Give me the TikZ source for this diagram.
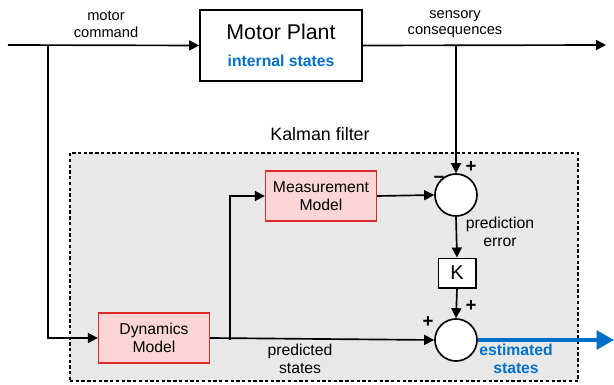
\documentclass[tikz,border=0pt]{standalone}
\usepackage{fontspec}
\setmainfont{Liberation Sans}
\usetikzlibrary{arrows.meta}
\definecolor{kfgray}{RGB}{232,232,232}
\definecolor{redfill}{RGB}{252,214,214}
\definecolor{redline}{RGB}{224,40,40}
\definecolor{estblue}{RGB}{0,112,200}
\begin{document}
\begin{tikzpicture}[x=0.75pt,y=-0.75pt,
  conn/.style={line width=1.25pt,-{Triangle[length=7.5pt,width=7.5pt]}},
  redbox/.style={draw=redline,fill=redfill,line width=1.2pt,minimum width=83pt,minimum height=37.5pt,align=center,font=\fontsize{11.8}{14}\selectfont,inner sep=0pt},
  sumnode/.style={circle,draw,fill=white,line width=1.25pt,minimum size=31.5pt,inner sep=0pt},
  lbl/.style={align=center,font=\fontsize{11}{12.5}\selectfont},
  inlbl/.style={align=center,font=\fontsize{11.8}{13}\selectfont},
  sign/.style={font=\fontsize{14}{14}\selectfont\bfseries,inner sep=0pt}]
\useasboundingbox (0,0) rectangle (614,385);
% Kalman filter box
\node[draw,dash pattern=on 2.5pt off 1.8pt,fill=kfgray,line width=1pt,minimum width=381pt,minimum height=171pt,inner sep=0pt] (kf) at (324,267) {};
\node[font=\fontsize{13.4}{15}\selectfont] (kflabel) at (320,134) {Kalman filter};
% Motor Plant
\node[draw,fill=white,line width=1.3pt,minimum width=121.5pt,minimum height=53pt,inner sep=0pt] (plant) at (281,45.5) {};
\node[font=\fontsize{16}{18}\selectfont] (plantt) at (281,32) {Motor Plant};
\node[font=\fontsize{11.8}{14}\selectfont\bfseries,text=estblue] (plants) at (281,61) {internal states};
% nodes
\node[redbox] (meas) at (321,196) {Measurement\\Model};
\node[redbox] (dyn) at (154,338) {Dynamics\\Model};
\node[sumnode] (s1) at (456,195) {};
\node[sumnode] (s2) at (456,340) {};
\node[draw,fill=white,line width=1.25pt,minimum width=28pt,minimum height=22pt,inner sep=0pt,font=\fontsize{15}{15}\selectfont] (K) at (457,273) {K};
% coordinates
\coordinate (in) at (8,45);
\coordinate (out) at (606,45);
\coordinate (b1) at (48,45);
\coordinate (b2) at (456,45);
\coordinate (b3) at (230,340);
\coordinate (est) at (614,340);
% connectors
\draw[conn] (in) -- (plant.west);
\draw[conn] (plant.east) -- (out);
\draw[conn] (b1) |- (dyn.west);
\draw[conn] (b2) -- (s1.north);
\draw[conn] (dyn.east) -- (s2.west);
\draw[conn] (b3) |- (meas.west);
\draw[conn] (meas.east) -- (s1.west);
\draw[conn] (s1.south) -- (K.north);
\draw[conn] (K.south) -- (s2.north);
\draw[line width=2.8pt,estblue,-{Triangle[length=13pt,width=14pt]}] (s2.east) -- (est);
% labels
\node[lbl] (l1) at (106,24) {motor\\command};
\node[lbl] (l2) at (455,24) {sensory\\consequences};
\node[inlbl] (l3) at (300,359) {predicted\\states};
\node[inlbl] (l4) at (500,232) {prediction\\error};
\node[inlbl,font=\fontsize{11.8}{13}\selectfont\bfseries,text=estblue] (l5) at (516,359) {estimated\\states};
% signs
\node[sign] (p1) at (471,167) {+};
\node[sign] (m1) at (439,180) {\textminus};
\node[sign] (p2) at (471,306) {+};
\node[sign] (p3) at (428,322) {+};
\end{tikzpicture}
\end{document}
